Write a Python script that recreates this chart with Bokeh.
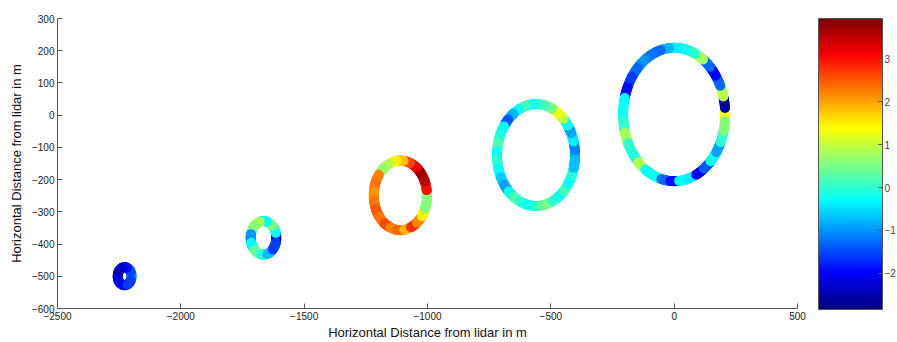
import numpy as np
from bokeh.plotting import figure
from bokeh.models import ColumnDataSource, LinearColorMapper, ColorBar, FixedTicker, Range1d
from bokeh.embed import file_html
from bokeh.resources import INLINE

# ---- data ----
ring_cx = [-2228, -1665, -1110, -560, 0]
ring_cy = [-500, -381, -249, -124, 2]
ring_r = [28, 52, 108, 158, 207]

# values sampled counter-clockwise starting at east (angle 0)
ring1_vals = [-0.9, -1.5, -1.9, -2.3, -2.5, -2.2, -2.0, -1.6]
ring2_vals = [-2.3, -0.2, 0.5, -0.3, 0.8, 0.6, -1.0, -0.3, 0.4, 0.0, -0.7, -1.6]
ring3_vals = [0.6, 3.0, 3.5, 3.7, 3.2, 2.6, 1.8, 1.5, 0.9, 0.7, 2.2, 2.3,
              2.1, 2.3, 2.5, 2.3, 2.6, 2.2, 2.4, 1.9, 2.8, 2.2, 1.5, 0.6]
ring4_vals = [-0.9, -1.1, -0.4, -0.9, -0.2, 1.0, 1.3, 0.5, 0.2, 0.0, -0.2, 0.2,
              -0.3, -0.8, -1.4, -0.3, -0.1, 0.2, -0.2, 0.0, -0.3, -0.6, -0.9, -0.2,
              0.2, 0.0, -0.2, -0.1, 0.3, 0.5, 0.0, -0.2, 0.2, -0.3, -0.1, -0.7]
ring5_vals = [1.4, -2.6, 0.9, -1.3, -2.0, -1.3, 0.8, 0.0, -0.2, -0.4, -0.8, -1.3,
              -1.2, -1.0, -1.3, -1.6, -1.9, -0.3, -0.2, 0.0, 0.8, 0.0, -0.1, 0.9,
              -0.3, -0.2, -1.3, -1.9, -0.3, -0.4, -2.1, -1.4, -0.2, -0.9, 0.0, 0.6]
ring_vals = [ring1_vals, ring2_vals, ring3_vals, ring4_vals, ring5_vals]

cbar_low, cbar_high = -2.85, 3.95
cbar_ticks = [-2, -1, 0, 1, 2, 3]
x_ticks = [-2500, -2000, -1500, -1000, -500, 0, 500]
y_ticks = [-600, -500, -400, -300, -200, -100, 0, 100, 200, 300]
axis_title = "Horizontal Distance from lidar in m"

# ---- jet palette ----
def jet(n=256):
    out = []
    for t in np.linspace(0, 1, n):
        r = np.clip(1.5 - abs(4 * t - 3), 0, 1)
        g = np.clip(1.5 - abs(4 * t - 2), 0, 1)
        b = np.clip(1.5 - abs(4 * t - 1), 0, 1)
        out.append("#%02x%02x%02x" % (int(r * 255), int(g * 255), int(b * 255)))
    return out

mapper = LinearColorMapper(palette=jet(), low=cbar_low, high=cbar_high)

# ---- build ring point positions from centre, radius, and sample values ----
xs, ys, vs = [], [], []
sub = 8
for cx, cy, r, vals in zip(ring_cx, ring_cy, ring_r, ring_vals):
    n = len(vals)
    d = 2 * np.pi / n
    for k, v in enumerate(vals):
        for j in range(sub):
            a = k * d + (j + 0.5) / sub * d - d / 2
            xs.append(cx + r * np.cos(a))
            ys.append(cy + r * np.sin(a))
            vs.append(v)
src = ColumnDataSource(dict(x=xs, y=ys, v=vs))

p = figure(width=897, height=342, output_backend="svg", toolbar_location=None,
           x_range=Range1d(-2500, 500), y_range=Range1d(-600, 300),
           min_border_left=57, min_border_right=100, min_border_top=18,
           min_border_bottom=34)
p.outline_line_color = None
p.grid.visible = False
p.background_fill_color = "white"

p.scatter("x", "y", source=src, size=10, marker="circle",
          fill_color={"field": "v", "transform": mapper}, line_color=None)

font = "Liberation Sans"
for ax in (p.xaxis[0], p.yaxis[0]):
    ax.axis_label = axis_title
    ax.axis_label_text_font = font
    ax.axis_label_text_font_style = "normal"
    ax.axis_label_text_font_size = "13px"
    ax.major_label_text_font = font
    ax.major_label_text_font_size = "10px"
    ax.major_tick_in = 5
    ax.major_tick_out = 0
    ax.minor_tick_line_color = None
    ax.axis_line_color = "#555555"
    ax.major_tick_line_color = "#555555"
    ax.major_label_text_color = "#222222"
    ax.axis_label_text_color = "#111111"
p.xaxis[0].ticker = FixedTicker(ticks=x_ticks)
p.yaxis[0].ticker = FixedTicker(ticks=y_ticks)
p.xaxis[0].major_label_standoff = 3
p.xaxis[0].axis_label_standoff = 2
p.yaxis[0].major_label_standoff = 3
p.yaxis[0].axis_label_standoff = 5

cb = ColorBar(color_mapper=mapper, ticker=FixedTicker(ticks=cbar_ticks),
              width=64, height=291, location=(761, -1), padding=0, margin=0,
              bar_line_color="#555555", major_tick_line_color="#555555",
              major_tick_in=4, major_tick_out=0,
              major_label_text_font=font, major_label_text_font_size="10px",
              label_standoff=2, background_fill_color=None, border_line_color=None)
p.add_layout(cb, "center")

open("out.html", "w").write(file_html(p, INLINE))
